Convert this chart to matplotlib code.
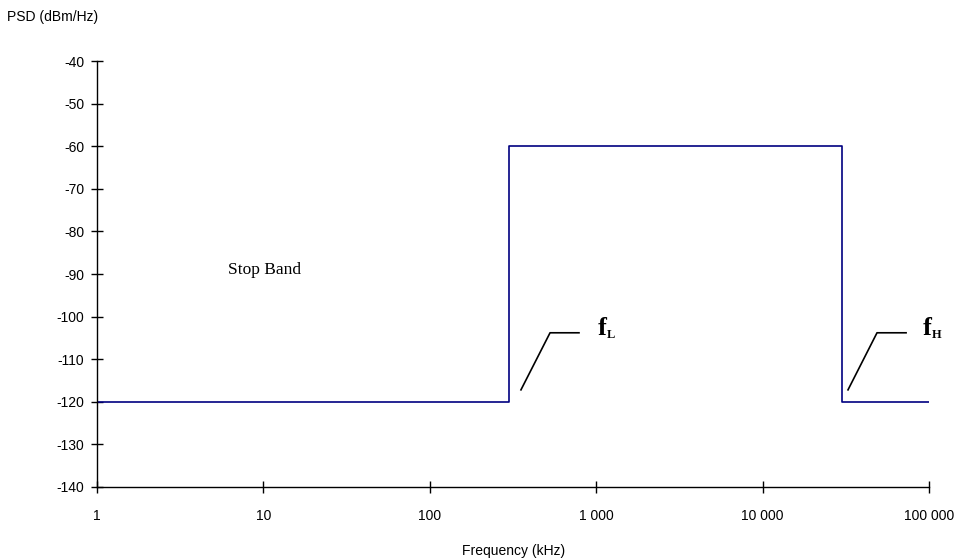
import numpy as np
import matplotlib.pyplot as plt
from matplotlib.ticker import FixedLocator, FixedFormatter, NullLocator

# PSD mask (frequency in kHz, level in dBm/Hz)
freq_khz = [1, 300, 300, 30000, 30000, 100000]
psd_dbm = [-120, -120, -60, -60, -120, -120]

x_ticks = [1, 10, 100, 1000, 10000, 100000]
x_labels = ['1', '10', '100', '1 000', '10 000', '100 000']
y_ticks = [-140, -130, -120, -110, -100, -90, -80, -70, -60, -50, -40]

# leader lines for the band edge labels
fl_leader_x = [353, 528, 788]
fh_leader_x = [32600, 48700, 72800]
leader_y = [-117.2, -103.8, -103.8]

# band edge labels: main letter, subscript, x position
edge_labels = [('f', 'L', 1020), ('f', 'H', 92000)]
label_baseline = -104.3

plt.rcParams['font.family'] = ['Liberation Sans', 'DejaVu Sans']

fig = plt.figure(figsize=(9.65, 5.6), dpi=100)
ax = fig.add_axes([0.1005, 0.1304, 0.8622, 0.7606])

ax.plot(freq_khz, psd_dbm, color='#000080', lw=1.2)

ax.plot(fl_leader_x, leader_y, color='black', lw=1.2)
ax.plot(fh_leader_x, leader_y, color='black', lw=1.2)
for main, sub, xpos in edge_labels:
    ax.text(xpos, label_baseline, main, fontsize=19, fontweight='bold',
            family='Liberation Serif', va='baseline', ha='left')
    ax.annotate(sub, xy=(xpos, label_baseline), xytext=(6.5, -2), textcoords='offset points',
                fontsize=9, fontweight='bold', family='Liberation Serif',
                va='baseline', ha='left')
ax.text(6.1, -89.1, 'Stop Band', fontsize=12.5, va='center', ha='left', family='Liberation Serif')

ax.set_xscale('log')
ax.set_xlim(1, 100000)
ax.set_ylim(-140, -40)
ax.xaxis.set_major_locator(FixedLocator(x_ticks))
ax.xaxis.set_major_formatter(FixedFormatter(x_labels))
ax.xaxis.set_minor_locator(NullLocator())
ax.set_yticks(y_ticks)
ax.set_yticklabels([str(v) for v in y_ticks])

for side in ['top', 'right']:
    ax.spines[side].set_visible(False)
ax.spines['left'].set_linewidth(1.0)
ax.spines['bottom'].set_linewidth(1.0)
ax.tick_params(axis='both', direction='inout', length=8, width=1.0, labelsize=10)
ax.tick_params(axis='x', pad=12)
ax.tick_params(axis='y', pad=5)

fig.text(0.007, 0.97, 'PSD (dBm/Hz)', fontsize=10, ha='left', va='center')
fig.text(0.532, 0.016, 'Frequency (kHz)', fontsize=10, ha='center', va='center')

fig.savefig('out.png', dpi=100)
